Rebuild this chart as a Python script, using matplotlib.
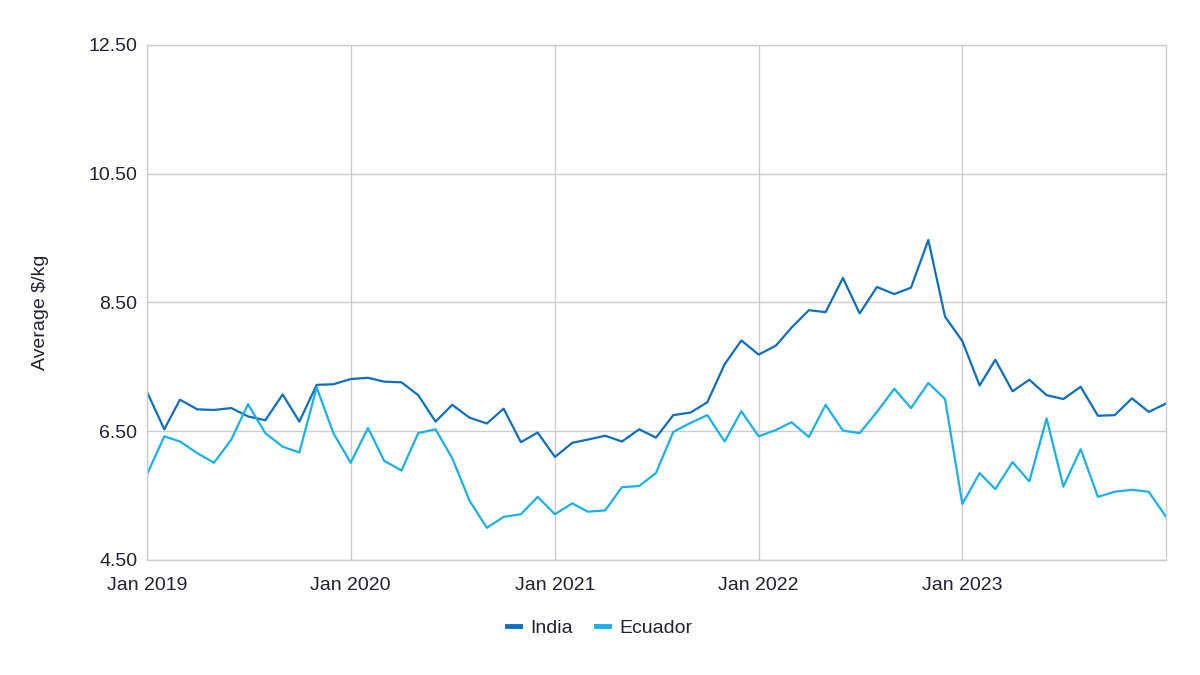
import pandas as pd
import matplotlib.pyplot as plt
import matplotlib.dates as mdates

plt.rcParams['font.family'] = ['Liberation Sans', 'DejaVu Sans']

# monthly average prices, Jan 2019 - Jan 2024
months = pd.date_range('2019-01-01', '2024-01-01', freq='MS')

india = [7.11, 6.53, 6.99, 6.84, 6.83, 6.86, 6.73, 6.67, 7.07, 6.65,
         7.22, 7.23, 7.31, 7.33, 7.27, 7.26, 7.06, 6.65, 6.91, 6.71,
         6.62, 6.85, 6.33, 6.48, 6.10, 6.32, 6.37, 6.43, 6.34, 6.53,
         6.40, 6.75, 6.79, 6.95, 7.54, 7.91, 7.69, 7.83, 8.11, 8.38,
         8.35, 8.88, 8.33, 8.74, 8.63, 8.73, 9.47, 8.28, 7.90, 7.21,
         7.61, 7.12, 7.30, 7.06, 7.00, 7.19, 6.74, 6.75, 7.01, 6.80,
         6.93]

ecuador = [5.83, 6.42, 6.34, 6.16, 6.01, 6.37, 6.92, 6.47, 6.26, 6.17,
           7.18, 6.47, 6.01, 6.55, 6.04, 5.89, 6.47, 6.53, 6.08, 5.42,
           5.00, 5.17, 5.21, 5.48, 5.21, 5.38, 5.25, 5.27, 5.63, 5.65,
           5.85, 6.49, 6.63, 6.75, 6.34, 6.81, 6.42, 6.52, 6.64, 6.41,
           6.91, 6.51, 6.47, 6.80, 7.16, 6.86, 7.25, 7.00, 5.37, 5.85,
           5.60, 6.02, 5.72, 6.70, 5.64, 6.22, 5.48, 5.56, 5.59, 5.56,
           5.17]

year_ticks = pd.date_range('2019-01-01', '2023-01-01', freq='YS')
y_ticks = [4.5, 6.5, 8.5, 10.5, 12.5]

text_col = '#222230'
grid_col = '#cccccc'

fig = plt.figure(figsize=(12, 6.75), dpi=100)
ax = fig.add_axes([0.1225, 0.1704, 0.8492, 0.7630])

ax.plot(months, india, color='#0e6fbe', lw=1.6, label='India')
ax.plot(months, ecuador, color='#1ab1ea', lw=1.6, label='Ecuador')

ax.set_xlim(months[0], months[-1])
ax.set_ylim(4.5, 12.5)
ax.set_yticks(y_ticks)
ax.set_yticklabels([f'{v:.2f}' for v in y_ticks])
ax.set_xticks(year_ticks)
ax.xaxis.set_major_formatter(mdates.DateFormatter('%b %Y'))

ax.grid(True, color=grid_col, lw=1)
ax.set_axisbelow(True)
for s in ax.spines.values():
    s.set_color(grid_col)
    s.set_linewidth(1)
ax.tick_params(length=0, labelsize=14, colors=text_col)
ax.tick_params(axis='y', pad=7)
ax.tick_params(axis='x', pad=12)

ax.set_ylabel('Average $/kg', fontsize=14, color=text_col)
ax.yaxis.set_label_coords(-0.096, 0.48)

leg = fig.legend(loc='center', bbox_to_anchor=(0.5, 0.069), ncol=2,
                 frameon=False, fontsize=14, handlelength=0.65,
                 handletextpad=0.55, columnspacing=1.2)
for h in leg.get_lines():
    h.set_linewidth(3.5)
for t in leg.get_texts():
    t.set_color(text_col)

fig.savefig('out.png', dpi=100)
